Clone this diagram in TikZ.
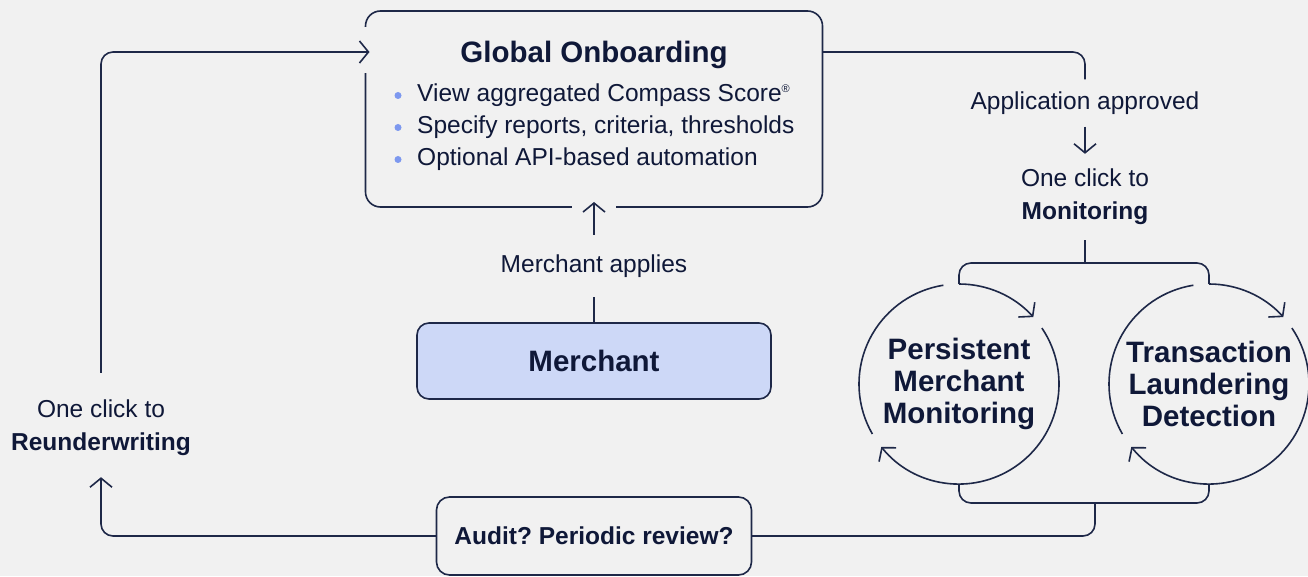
\documentclass[tikz,border=0pt]{standalone}
\usepackage{fontspec}
\setmainfont{Liberation Sans}
\usetikzlibrary{arrows.meta}
\frenchspacing
\definecolor{paper}{HTML}{F1F1F1}
\definecolor{ink}{HTML}{0F1838}
\definecolor{linecol}{HTML}{1E2848}
\definecolor{lilac}{HTML}{CDD8F7}
\definecolor{bulletcol}{HTML}{7D98EF}
\begin{document}
\begin{tikzpicture}[x=1pt,y=1pt,
  wire/.style={draw=linecol, line width=1.6pt},
  arr/.style={wire, -{Straight Barb[length=9pt,width=22pt]}},
  box/.style={wire, rounded corners=13pt, inner sep=0pt, outer sep=0pt},
  lbl/.style={text=ink, font=\fontsize{24.5}{33}\selectfont, align=center, inner xsep=0pt},
  ttl/.style={text=ink, font=\fontsize{29.5}{32}\selectfont\bfseries, align=center},
  ring/.style={circle, minimum size=200pt, inner sep=0pt, outer sep=0pt}]
   \newcommand{\ringarcs}[1]{
        \draw[wire] (#1.210) arc[start angle=210, end angle=99, radius=100pt];
        \draw[arr] (#1.90) arc[start angle=90, end angle=42, radius=100pt];
        \draw[arr] (#1.34) arc[start angle=34, end angle=-141, radius=100pt];
    }
  \fill[paper] (0,0) rectangle (1308,576);
  \useasboundingbox (0,0) rectangle (1308,576);

  \node[box, minimum width=457pt, minimum height=196pt, rounded corners=15pt] (onb) at (594,467) {};
  \node[ttl, anchor=base] (title) at (594,513) {Global Onboarding};
  \foreach \y/\t in {474/{View aggregated Compass Score\raisebox{9pt}{\fontsize{11}{11}\selectfont ®}},
                     442/{Specify reports, criteria, thresholds},
                     410/{Optional API-based automation}}{
    \fill[bulletcol] (398,\y+6.5) circle (3.5pt);
    \node[lbl, anchor=base west, inner sep=0pt] at (417,\y) {\t};
  }
  \draw[paper, line width=5pt] ([yshift=-16pt]onb.north west) -- ([yshift=-62pt]onb.north west);
  \draw[paper, line width=5pt] ([xshift=-22pt]onb.south) -- ([xshift=22pt]onb.south);

  \node[box, fill=lilac, minimum width=354pt, minimum height=76pt, rounded corners=12pt,
        text=ink, font=\fontsize{29.5}{32}\selectfont\bfseries] (merchant) at (594,215) {Merchant};
  \node[box, minimum width=315pt, minimum height=78pt, rounded corners=13pt,
        text=ink, font=\fontsize{24.5}{30}\selectfont\bfseries] (audit) at (594,40) {Audit? Periodic review?};

  \node[lbl, inner ysep=19.5pt] (applies) at (594,310) {Merchant applies};
  \node[lbl, inner ysep=12pt] (appr) at (1085,473) {Application approved};
  \node[lbl, inner ysep=15pt] (mon) at (1085,379) {One click to\\\textbf{Monitoring}};
  \node[lbl, inner ysep=21pt] (reuw) at (101,148) {One click to\\\textbf{Reunderwriting}};

  \node[ring, ttl] (pmm) at (959,192) {Persistent\\Merchant\\Monitoring};
  \node[ring, ttl] (tld) at (1209,192) {Transaction\\Laundering\\Detection};
  \ringarcs{pmm}
  \ringarcs{tld}

  \coordinate (topbus) at (1085,313);
  \coordinate (botbus) at (1095,73);

  \draw[wire] (merchant.north) -- (applies.south);
  \draw[arr] (applies.north) -- ([yshift=5pt]onb.south);
  \draw[wire, rounded corners=12pt] ([yshift=-41pt]onb.north east) -| (appr.north);
  \draw[arr] (appr.south) -- (mon.north);
  \draw[wire] (mon.south) -- (topbus);
  \draw[wire, rounded corners=12pt] (pmm.north) |- (topbus) -| (tld.north);
  \draw[wire, rounded corners=12pt] (pmm.south) |- (botbus) -| (tld.south);
  \draw[wire, rounded corners=12pt] (botbus) |- (audit.east);
  \draw[arr, rounded corners=12pt] (audit.west) -| (reuw.south);
  \draw[arr, rounded corners=12pt] ([yshift=6pt]reuw.north) |- ([xshift=4pt,yshift=-41pt]onb.north west);

\end{tikzpicture}
\end{document}
